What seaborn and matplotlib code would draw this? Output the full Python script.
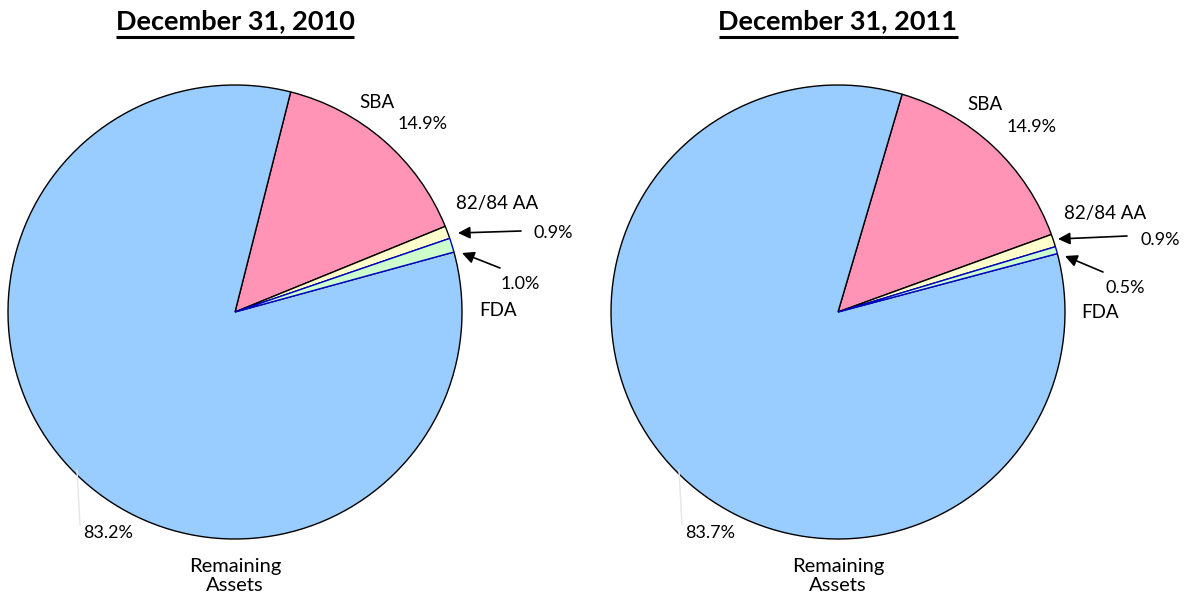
import matplotlib
matplotlib.use("Agg")
import matplotlib.pyplot as plt
import seaborn as sns

# data
categorias = ["SBA", "82/84 AA", "FDA", "Remaining\nAssets"]
valores_2010 = [14.9, 0.9, 1.0, 83.2]
valores_2011 = [14.9, 0.9, 0.5, 83.7]
titulos = ["December 31, 2010", "December 31, 2011"]
colores = ["#ff94b6", "#ffffcc", "#ccffcc", "#99ccff"]
bordes = ["black", "black", "#0000cc", "black"]

sns.set_theme(style="white")
plt.rcParams['font.family'] = ['Lato', 'DejaVu Sans']
plt.rcParams['text.color'] = 'black'

W, H = 1191, 596
fig = plt.figure(figsize=(W / 100, H / 100), dpi=100)
ax = fig.add_axes([0, 0, 1, 1])
ax.set_xlim(0, W)
ax.set_ylim(0, H)
ax.set_aspect("equal")
ax.axis("off")

def Y(y):
    return H - y

def flecha(cola, punta):
    ax.annotate("", xy=(punta[0], Y(punta[1])), xytext=(cola[0], Y(cola[1])),
                arrowprops=dict(arrowstyle="-|>", color="black", lw=1.2, mutation_scale=18,
                                shrinkA=0, shrinkB=0))

def dibujarTorta(valores, cx, cy, inicio, titulo, pos):
    cuñas, _ = ax.pie(valores, colors=colores, startangle=inicio, counterclock=False,
                      center=(cx, Y(cy)), radius=227, frame=True,
                      wedgeprops=dict(linewidth=1.0))
    for w, b in zip(cuñas, bordes):
        w.set_edgecolor(b)
    cuñas[2].set_zorder(3)

    t = ax.text(cx, Y(21), titulo, ha="center", va="center", fontsize=19.5, fontweight="bold")
    fig.canvas.draw()
    bb = t.get_window_extent()
    ax.plot([bb.x0, bb.x1], [Y(37), Y(37)], color="black", lw=2.2, solid_capstyle="butt")

    fs = 13.5
    ax.text(pos["sba"][0], Y(pos["sba"][1]), categorias[0], ha="center", va="center", fontsize=fs)
    ax.text(pos["sbap"][0], Y(pos["sbap"][1]), f"{valores[0]:.1f}%", ha="center", va="center", fontsize=fs - 0.5)
    ax.text(pos["aa"][0], Y(pos["aa"][1]), categorias[1], ha="center", va="center", fontsize=fs)
    ax.text(pos["aap"][0], Y(pos["aap"][1]), f"{valores[1]:.1f}%", ha="center", va="center", fontsize=fs - 0.5)
    flecha(pos["aa_cola"], pos["aa_punta"])
    ax.text(pos["fdap"][0], Y(pos["fdap"][1]), f"{valores[2]:.1f}%", ha="center", va="center", fontsize=fs - 0.5)
    flecha(pos["fda_cola"], pos["fda_punta"])
    ax.text(pos["fda"][0], Y(pos["fda"][1]), categorias[2], ha="center", va="center", fontsize=fs)
    ax.text(pos["remp"][0], Y(pos["remp"][1]), f"{valores[3]:.1f}%", ha="center", va="center", fontsize=fs - 0.5)
    ax.text(cx, Y(576), categorias[3], ha="center", va="center", fontsize=14.5, linespacing=1.15)
    # faint leader line for the big slice
    ax.plot([pos["remp"][0] - 31, pos["remp"][0] - 28], [Y(470), Y(525)], color="#e6e6e6", lw=1)


pos_2010 = {"sba": (377, 103), "sbap": (423, 124), "aa": (497, 204), "aap": (553, 233),
            "aa_cola": (521, 231), "aa_punta": (458, 233),
            "fdap": (520, 284), "fda_cola": (500, 268), "fda_punta": (462, 253),
            "fda": (498, 311), "remp": (108, 533)}
pos_2011 = {"sba": (985, 104), "sbap": (1032, 127), "aa": (1105, 214), "aap": (1160, 240),
            "aa_cola": (1127, 236), "aa_punta": (1058, 239),
            "fdap": (1125, 288), "fda_cola": (1103, 272), "fda_punta": (1065, 256),
            "fda": (1100, 312), "remp": (710, 533)}

dibujarTorta(valores_2010, 235, 312, 75.8, titulos[0], pos_2010)
dibujarTorta(valores_2011, 838, 312, 73.6, titulos[1], pos_2011)

ax.set_xlim(0, W)
ax.set_ylim(0, H)
fig.savefig("out.png", dpi=100)
